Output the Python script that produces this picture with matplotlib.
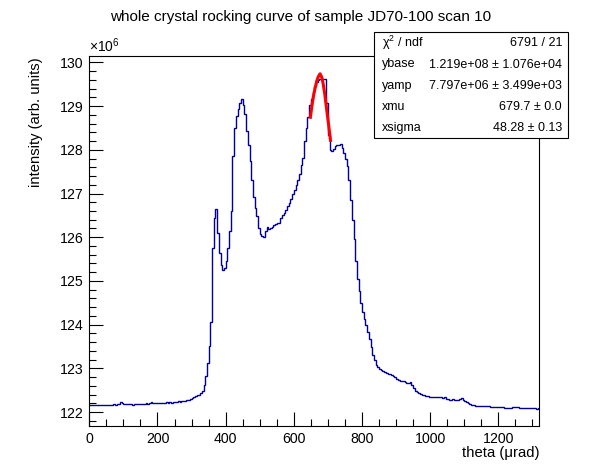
import numpy as np
import matplotlib
matplotlib.use("Agg")
import matplotlib.pyplot as plt
from matplotlib.patches import Rectangle
from matplotlib.ticker import MultipleLocator, FormatStrFormatter

plt.rcParams['font.family'] = ['Liberation Sans', 'DejaVu Sans']
plt.rcParams['mathtext.fontset'] = 'custom'
plt.rcParams['mathtext.rm'] = 'Liberation Sans'
plt.rcParams['mathtext.it'] = 'Liberation Sans:italic'

# ---------------- data (intensity in units of 1e6) ----------------
bin_width = 5.0  # micro-rad
intensity = [
    122.15,122.15,122.15,122.16,122.16,122.17,122.16,122.17,122.17,122.16,
    122.17,122.16,122.17,122.17,122.18,122.17,122.18,122.19,122.22,122.20,
    122.18,122.18,122.19,122.18,122.19,122.17,122.18,122.19,122.18,122.18,
    122.18,122.19,122.18,122.20,122.19,122.21,122.22,122.20,122.20,122.21,
    122.21,122.21,122.20,122.21,122.21,122.22,122.21,122.22,122.21,122.22,
    122.22,122.23,122.25,122.24,122.25,122.25,122.26,122.28,122.28,122.30,
    122.33,122.34,122.36,122.38,122.40,122.43,122.47,122.62,122.82,123.13,
    123.50,124.05,125.75,126.45,126.64,126.10,125.65,125.36,125.24,125.30,
    125.46,125.75,126.15,126.60,127.85,128.50,128.77,128.94,129.07,129.16,
    129.02,128.83,128.42,128.10,127.75,127.32,126.92,126.68,126.48,126.22,
    126.08,126.02,126.01,126.14,126.23,126.19,126.21,126.24,126.28,126.31,
    126.32,126.33,126.44,126.50,126.56,126.63,126.72,126.79,126.88,126.98,
    127.08,127.20,127.32,127.45,127.65,127.82,128.20,128.50,128.75,129.02,
    129.17,129.32,129.46,129.56,129.60,129.62,129.63,129.63,129.63,129.06,
    128.35,127.99,127.98,128.03,128.09,128.12,128.12,128.13,128.05,127.92,
    127.80,127.62,127.30,126.85,126.40,125.95,125.45,125.05,124.78,124.50,
    124.30,124.13,123.98,123.82,123.66,123.48,123.30,123.18,123.08,123.02,
    122.99,122.96,122.94,122.91,122.89,122.88,122.86,122.84,122.82,122.79,
    122.76,122.74,122.72,122.71,122.70,122.69,122.67,122.67,122.68,122.62,
    122.55,122.49,122.46,122.44,122.42,122.40,122.38,122.37,122.36,122.35,
    122.35,122.34,122.34,122.35,122.34,122.34,122.35,122.33,122.34,122.30,
    122.29,122.28,122.28,122.29,122.28,122.28,122.27,122.29,122.31,122.27,
    122.25,122.22,122.20,122.18,122.16,122.15,122.14,122.13,122.13,122.14,
    122.14,122.14,122.13,122.13,122.13,122.12,122.12,122.12,122.12,122.11,
    122.12,122.12,122.11,122.10,122.10,122.09,122.10,122.10,122.11,122.12,
    122.12,122.11,122.10,122.10,122.10,122.09,122.10,122.09,122.09,122.10,
    122.09,122.09,122.08,122.09,
]

# fitted curve
fit_theta = [648, 652, 657, 662, 667, 672, 677, 682, 686, 691, 696, 702, 708]
fit_vals = [128.71, 128.95, 129.21, 129.40, 129.57, 129.68, 129.74, 129.66,
            129.51, 129.26, 128.94, 128.57, 128.18]

title = "whole crystal rocking curve of sample JD70-100 scan 10"
xlabel = "theta (\u03bcrad)"
ylabel = "intensity (arb. units)"
stat_names = ["\u03c7$^{2}$ / ndf", "ybase", "yamp", "xmu", "xsigma"]
stat_values = ["6791 / 21", "1.219e+08 \u00b1 1.076e+04",
               "7.797e+06 \u00b1 3.499e+03", "679.7 \u00b1 0.0",
               "48.28 \u00b1 0.13"]

# ---------------- figure ----------------
W, H = 598, 474
fig = plt.figure(figsize=(W / 100, H / 100), dpi=100)

def fx(px):
    return px / W

def fy(py):
    return 1 - py / H

ax_l, ax_r, ax_t, ax_b = 89.3, 539.3, 56.3, 426.0
ax = fig.add_axes([fx(ax_l), fy(ax_b), fx(ax_r) - fx(ax_l), fy(ax_t) - fy(ax_b)])

vals = np.array(intensity)
edges = np.arange(len(vals) + 1) * bin_width
ax.stairs(vals, edges, color='#000099', lw=1.0, baseline=None)
ax.plot(fit_theta, fit_vals, color='#ff0000', lw=2.2, solid_capstyle='butt')

ax.set_xlim(0, 1320)
ax.set_ylim(121.68, 130.14)

ax.xaxis.set_major_locator(MultipleLocator(200))
ax.xaxis.set_minor_locator(MultipleLocator(50))
ax.yaxis.set_major_locator(MultipleLocator(1))
ax.yaxis.set_minor_locator(MultipleLocator(0.2))
ax.xaxis.set_major_formatter(FormatStrFormatter('%d'))
ax.yaxis.set_major_formatter(FormatStrFormatter('%d'))

ax.tick_params(which='both', direction='in', top=False, right=False,
               width=0.8, labelsize=10.2, colors='black')
ax.tick_params(which='major', length=10)
ax.tick_params(which='minor', length=5)
ax.tick_params(axis='x', pad=4)
ax.tick_params(axis='y', pad=4)
for s in ax.spines.values():
    s.set_linewidth(0.8)

# multiplier
fig.text(fx(89), fy(52), r"$\times$10$^{6}$", fontsize=10, ha='left', va='baseline')

# title and axis labels
fig.text(fx(301), fy(17), title, fontsize=11, ha='center', va='center')
fig.text(fx(539), fy(453), xlabel, fontsize=10.7, ha='right', va='center')
fig.text(fx(36), fy(57), ylabel, fontsize=10.6, ha='center', va='top', rotation=90)

# stats box
bx0, by0, bx1, by1 = 374, 32, 568, 138
rect = Rectangle((fx(bx0), fy(by1)), fx(bx1) - fx(bx0), fy(by0) - fy(by1),
                 transform=fig.transFigure, facecolor='white', edgecolor='black',
                 lw=0.8, zorder=5)
fig.patches.append(rect)
row_y = [43, 64.5, 86, 107, 128]
for name, val, yy in zip(stat_names, stat_values, row_y):
    fig.text(fx(382), fy(yy), name, fontsize=9, ha='left', va='center', zorder=6)
    fig.text(fx(562), fy(yy), val, fontsize=9, ha='right', va='center', zorder=6)

fig.savefig("out.png", dpi=100)
